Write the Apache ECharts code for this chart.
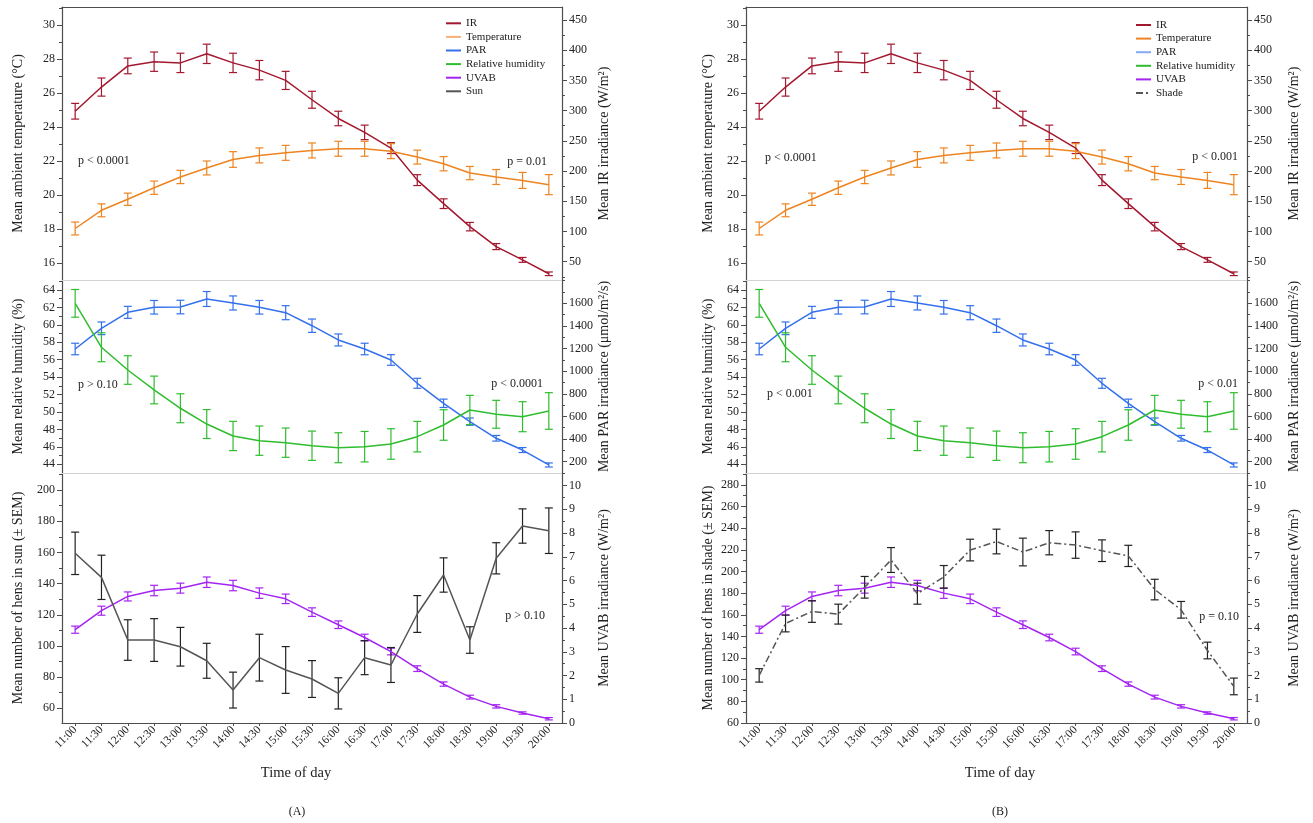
<!DOCTYPE html>
<html>
<head>
<meta charset="utf-8">
<script src="https://cdn.jsdelivr.net/npm/echarts@6/dist/echarts.min.js"></script>
<style>
  html, body { margin: 0; padding: 0; background: #fff; }
  #chart { width: 1313px; height: 823px; }
</style>
</head>
<body>
<div id="chart"></div>
<script>
// Half-hourly observation times
const times = ['11:00','11:30','12:00','12:30','13:00','13:30','14:00','14:30','15:00','15:30',
               '16:00','16:30','17:00','17:30','18:00','18:30','19:00','19:30','20:00'];

// Environmental means and SEM (shared by both panels)
const irMean   = [299, 339, 374, 381, 379, 394, 379, 367, 350, 318, 287, 264, 238, 185, 146, 108, 75, 53, 30];
const irErr    = [13, 15, 13, 16, 16, 16, 16, 16, 15, 14, 12, 12, 9, 9, 8, 7, 5, 4, 3];
const tempMean = [18.03, 19.10, 19.75, 20.43, 21.06, 21.59, 22.09, 22.33, 22.48, 22.62, 22.72, 22.72, 22.58, 22.23, 21.84, 21.29, 21.06, 20.86, 20.61];
const tempErr  = [0.38, 0.38, 0.36, 0.39, 0.39, 0.41, 0.46, 0.44, 0.44, 0.44, 0.44, 0.44, 0.44, 0.41, 0.42, 0.39, 0.44, 0.47, 0.59];
const parMean  = [1196, 1379, 1520, 1565, 1567, 1638, 1603, 1565, 1517, 1402, 1276, 1196, 1099, 893, 716, 554, 407, 303, 171];
const parErr   = [51, 56, 53, 60, 60, 66, 62, 60, 62, 59, 53, 51, 47, 44, 37, 32, 25, 22, 18];
const rhMean   = [62.47, 57.43, 54.82, 52.53, 50.43, 48.62, 47.25, 46.71, 46.48, 46.13, 45.90, 46.02, 46.33, 47.17, 48.51, 50.23, 49.74, 49.46, 50.12];
const rhErr    = [1.59, 1.66, 1.64, 1.59, 1.66, 1.66, 1.68, 1.68, 1.68, 1.68, 1.72, 1.75, 1.75, 1.75, 1.75, 1.68, 1.60, 1.72, 2.10];
const uvabMean = [3.93, 4.73, 5.33, 5.58, 5.68, 5.93, 5.79, 5.47, 5.23, 4.67, 4.14, 3.60, 3.01, 2.29, 1.64, 1.09, 0.70, 0.42, 0.18];
const uvabErr  = [0.15, 0.19, 0.19, 0.22, 0.21, 0.22, 0.22, 0.22, 0.20, 0.18, 0.16, 0.14, 0.14, 0.12, 0.09, 0.08, 0.07, 0.05, 0.05];

// Hen counts (mean ± SEM)
const sunMean   = [159.4, 144.0, 103.8, 103.8, 99.5, 90.5, 71.7, 92.5, 84.6, 78.8, 69.6, 92.5, 87.8, 120.5, 145.5, 103.8, 156.2, 176.9, 173.9];
const sunErr    = [13.6, 14.2, 13.0, 13.7, 12.4, 11.2, 11.5, 15.0, 15.0, 11.8, 10.0, 10.9, 11.2, 11.8, 11.0, 8.5, 10.0, 11.0, 14.6];
const shadeMean = [104.0, 152.0, 163.0, 160.6, 185.4, 210.6, 179.5, 195.0, 219.8, 227.7, 218.0, 226.6, 224.4, 219.2, 214.4, 183.3, 164.6, 127.0, 93.8];
const shadeErr  = [6.2, 7.8, 10.0, 9.2, 10.0, 11.5, 9.7, 10.5, 10.0, 11.4, 12.8, 11.2, 12.2, 10.0, 9.8, 9.5, 7.7, 7.7, 7.7];

// Tick labels
const tempTicks  = [16, 18, 20, 22, 24, 26, 28, 30];
const irTicks    = [50, 100, 150, 200, 250, 300, 350, 400, 450];
const rhTicks    = [44, 46, 48, 50, 52, 54, 56, 58, 60, 62, 64];
const parTicks   = [200, 400, 600, 800, 1000, 1200, 1400, 1600];
const sunTicks   = [60, 80, 100, 120, 140, 160, 180, 200];
const shadeTicks = [60, 80, 100, 120, 140, 160, 180, 200, 220, 240, 260, 280];
const uvabTicks  = [0, 1, 2, 3, 4, 5, 6, 7, 8, 9, 10];

const FONT = '"Liberation Serif", "Times New Roman", serif';
const INK = '#222';
const AXIS = '#4d4d4d';
const SEP = '#d2d2d2';
const C = {
  ir: '#a3182f', temp: '#ee8420', par: '#3470ec', rh: '#2fbd2f',
  uvab: '#a424f2', hens: '#555555', bar: '#222222'
};

const grids = [], xAxes = [], yAxes = [], series = [];

function mids(ticks) {
  const step = ticks[1] - ticks[0], out = [];
  for (let i = 0; i < ticks.length; i++) out.push(ticks[i] + step / 2);
  out.unshift(ticks[0] - step / 2);
  return out;
}

function addY(grid, pos, min, max, labels, name, gap, minorList) {
  const base = { type: 'value', gridIndex: grid, position: pos, min: min, max: max, splitLine: { show: false } };
  const idx = yAxes.length;
  yAxes.push(Object.assign({}, base, {
    name: name, nameLocation: 'middle', nameGap: gap,
    nameTextStyle: { fontFamily: FONT, fontSize: 14, color: INK },
    axisLine: { show: true, onZero: false, lineStyle: { color: AXIS, width: 1.2 } },
    axisTick: { show: true, length: 5, customValues: labels, lineStyle: { color: AXIS } },
    axisLabel: { show: true, customValues: labels, margin: 7, fontFamily: FONT, fontSize: 12, color: INK,
                 formatter: v => String(v) }
  }));
  const minors = (minorList || mids(labels)).filter(v => v > min && v < max);
  yAxes.push(Object.assign({}, base, {
    axisLine: { show: false, onZero: false },
    axisTick: { show: true, length: 3, customValues: minors, lineStyle: { color: AXIS } },
    axisLabel: { show: false }
  }));
  return idx;
}

function addX(grid, opts) {
  const idx = xAxes.length;
  xAxes.push(Object.assign({
    type: 'category', gridIndex: grid, data: times, boundaryGap: true,
    axisTick: { show: false }, axisLabel: { show: false }, splitLine: { show: false }
  }, opts));
  return idx;
}

function lineSeries(name, xi, yi, data, color, extra) {
  series.push(Object.assign({
    type: 'line', name: name, xAxisIndex: xi, yAxisIndex: yi, data: data,
    symbol: 'none', smooth: false, z: 4,
    lineStyle: { color: color, width: 1.5 }, itemStyle: { color: color }
  }, extra || {}));
}

function errSeries(name, xi, yi, mean, err, color) {
  series.push({
    type: 'custom', name: name + ' SEM', xAxisIndex: xi, yAxisIndex: yi, silent: true, z: 3,
    encode: { x: 0, y: [1, 2] },
    data: mean.map((m, i) => [i, m - err[i], m + err[i]]),
    renderItem: function (params, api) {
      const lo = api.coord([api.value(0), api.value(1)]);
      const hi = api.coord([api.value(0), api.value(2)]);
      const hw = 4;
      const st = { stroke: color, lineWidth: 1.2 };
      return {
        type: 'group', children: [
          { type: 'line', shape: { x1: lo[0], y1: lo[1], x2: hi[0], y2: hi[1] }, style: st },
          { type: 'line', shape: { x1: lo[0] - hw, y1: lo[1], x2: lo[0] + hw, y2: lo[1] }, style: st },
          { type: 'line', shape: { x1: hi[0] - hw, y1: hi[1], x2: hi[0] + hw, y2: hi[1] }, style: st }
        ]
      };
    }
  });
}

// One three-panel figure: environment on top/middle, hen counts + UVAB at the bottom
function buildPanel(left, width, hens) {
  const g0 = grids.length;
  grids.push({ left: left, top: 7, width: width, height: 273 });
  grids.push({ left: left, top: 280, width: width, height: 193 });
  grids.push({ left: left, top: 473, width: width, height: 250 });

  // top panel
  const xTop = addX(g0, { position: 'bottom', axisLine: { show: true, onZero: false, lineStyle: { color: SEP, width: 1 } } });
  addX(g0, { position: 'top', axisLine: { show: true, onZero: false, lineStyle: { color: AXIS, width: 1.2 } } });
  const yTemp = addY(g0, 'left', 15, 31.06, tempTicks, 'Mean ambient temperature (°C)', hens.gapL);
  const yIr = addY(g0, 'right', 19.7, 471.5, irTicks, 'Mean IR irradiance (W/m²)', hens.gapR, [25, 75, 125, 175, 225, 275, 325, 375, 425]);
  errSeries('IR', xTop, yIr, irMean, irErr, C.ir);
  lineSeries('IR', xTop, yIr, irMean, C.ir);
  errSeries('Temperature', xTop, yTemp, tempMean, tempErr, C.temp);
  lineSeries('Temperature', xTop, yTemp, tempMean, C.temp);

  // middle panel
  const xMid = addX(g0 + 1, { position: 'bottom', axisLine: { show: true, onZero: false, lineStyle: { color: SEP, width: 1 } } });
  const yRh = addY(g0 + 1, 'left', 43, 65.15, rhTicks, 'Mean relative humidity (%)', hens.gapL, [45, 47, 49, 51, 53, 55, 57, 59, 61, 63, 65]);
  const yPar = addY(g0 + 1, 'right', 100, 1806, parTicks, 'Mean PAR irradiance (μmol/m²/s)', hens.gapR, [300, 500, 700, 900, 1100, 1300, 1500, 1700, 1800]);
  errSeries('PAR', xMid, yPar, parMean, parErr, C.par);
  lineSeries('PAR', xMid, yPar, parMean, C.par);
  errSeries('Relative humidity', xMid, yRh, rhMean, rhErr, C.rh);
  lineSeries('Relative humidity', xMid, yRh, rhMean, C.rh);

  // bottom panel
  const xBot = addX(g0 + 2, {
    position: 'bottom',
    axisLine: { show: true, onZero: false, lineStyle: { color: AXIS, width: 1.2 } },
    axisTick: { show: true, alignWithLabel: true, length: 3, lineStyle: { color: AXIS } },
    axisLabel: { show: true, rotate: 45, interval: 0, margin: 5, fontFamily: FONT, fontSize: 11.5, color: INK }
  });
  const yHens = addY(g0 + 2, 'left', hens.min, hens.max, hens.ticks, hens.axisName, hens.gapL);
  const yUv = addY(g0 + 2, 'right', 0, 10.53, uvabTicks, 'Mean UVAB irradiance (W/m²)', hens.gapR);
  errSeries('UVAB', xBot, yUv, uvabMean, uvabErr, C.uvab);
  lineSeries('UVAB', xBot, yUv, uvabMean, C.uvab);
  errSeries(hens.name, xBot, yHens, hens.mean, hens.err, C.bar);
  lineSeries(hens.name, xBot, yHens, hens.mean, C.hens, hens.lineExtra);
}

buildPanel(62, 500, {
  name: 'Sun', axisName: 'Mean number of hens in sun (± SEM)', mean: sunMean, err: sunErr,
  min: 50.6, max: 210.9, ticks: sunTicks, gapL: 37, gapR: 35, lineExtra: null
});
buildPanel(746, 501, {
  name: 'Shade', axisName: 'Mean number of hens in shade (± SEM)', mean: shadeMean, err: shadeErr,
  min: 60, max: 291, ticks: shadeTicks, gapL: 31, gapR: 40,
  lineExtra: { lineStyle: { color: C.hens, width: 1.5, type: [7, 3, 2, 3] } }
});

function legendBlock(left, top, last, tempColor, parColor) {
  return {
    orient: 'vertical', left: left, top: top, padding: 0,
    itemWidth: 15, itemHeight: 2, itemGap: 1.6, selectedMode: false,
    itemStyle: { opacity: 0 },
    textStyle: { fontFamily: FONT, fontSize: 11, color: INK, lineHeight: 12 },
    data: [
      { name: 'IR' },
      { name: 'Temperature', lineStyle: { color: tempColor } },
      { name: 'PAR', lineStyle: { color: parColor } },
      { name: 'Relative humidity' },
      { name: 'UVAB' },
      { name: last }
    ]
  };
}

function txt(x, y, s, align, size) {
  return {
    type: 'text', x: x, y: y, silent: true,
    style: { text: s, fill: INK, font: (size || 12) + 'px ' + FONT,
             align: align || 'left', verticalAlign: 'middle',
             textAlign: align || 'left', textVerticalAlign: 'middle' }
  };
}

const option = {
  animation: false,
  backgroundColor: '#fff',
  grid: grids,
  xAxis: xAxes,
  yAxis: yAxes,
  legend: [
    legendBlock(445, 17.3, 'Sun', '#f5b07a', C.par),
    legendBlock(1135, 19, 'Shade', C.temp, '#84aaf5')
  ],
  series: series,
  graphic: [
    txt(78, 161, 'p < 0.0001'), txt(547, 162, 'p = 0.01', 'right'),
    txt(78, 385, 'p > 0.10'), txt(543, 384, 'p < 0.0001', 'right'),
    txt(545, 616, 'p > 0.10', 'right'),
    txt(765, 158, 'p < 0.0001'), txt(1238, 157, 'p < 0.001', 'right'),
    txt(767, 394, 'p < 0.001'), txt(1238, 384, 'p < 0.01', 'right'),
    txt(1239, 617, 'p = 0.10', 'right'),
    txt(296, 773, 'Time of day', 'center', 14.5),
    txt(1000, 773, 'Time of day', 'center', 14.5),
    txt(297, 812, '(A)', 'center', 12),
    txt(1000, 812, '(B)', 'center', 12)
  ]
};

const chart = echarts.init(document.getElementById('chart'), null, { renderer: 'canvas' });
chart.setOption(option);
</script>
</body>
</html>
